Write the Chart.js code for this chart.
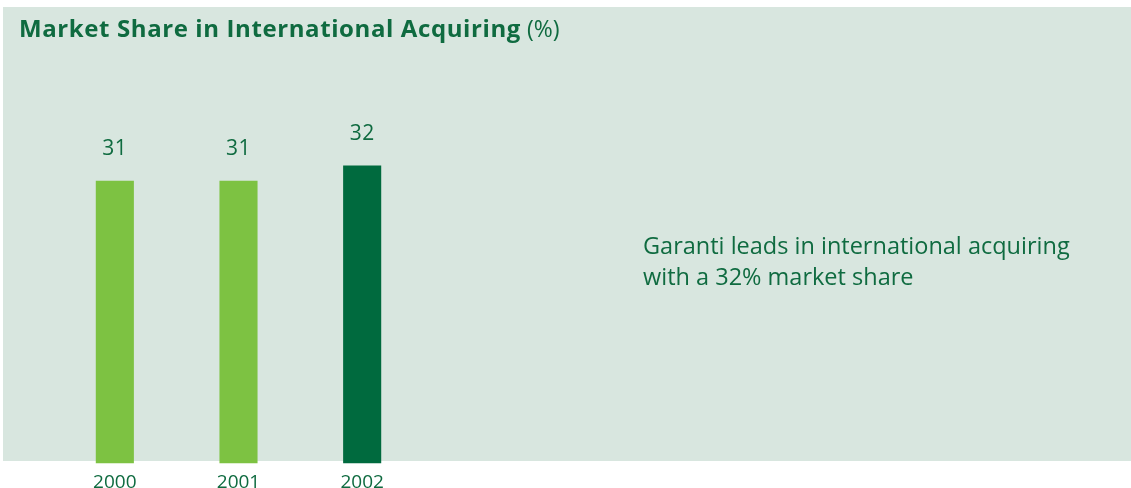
<!DOCTYPE html>
<html>
<head>
<meta charset="utf-8">
<script src="https://cdn.jsdelivr.net/npm/chart.js@4"></script>
<style>
  html, body { margin: 0; padding: 0; background: #ffffff; }
  #wrap { width: 1131px; height: 488px; position: relative; }
</style>
</head>
<body>
<div id="wrap"><canvas id="shareChart"></canvas></div>
<script>
const years = ['2000', '2001', '2002'];
const shareValues = [31, 31, 32];
const barColors = ['#7dc242', '#7dc242', '#006a3e'];
const titleBold = 'Market Share in International Acquiring';
const titleUnit = ' (%)';
const noteLines = ['Garanti leads in international acquiring', 'with a 32% market share'];

const textGreen = '#0f6b40';
const panelColor = '#d8e6df';
const fontFamily = '"Open Sans", "Noto Sans", sans-serif';

// light green panel, title and side note
const panelPlugin = {
    id: 'panel',
    beforeDraw(chart) {
        const ctx = chart.ctx;
        ctx.save();
        ctx.fillStyle = panelColor;
        ctx.fillRect(3, 7, chart.width - 3, 454);
        ctx.restore();
    },
    afterDraw(chart) {
        const ctx = chart.ctx;
        ctx.save();
        ctx.fillStyle = textGreen;
        ctx.textBaseline = 'alphabetic';
        ctx.font = 'bold 24px ' + fontFamily;
        ctx.letterSpacing = '0.6px';
        ctx.fillText(titleBold, 19, 37);
        const w = ctx.measureText(titleBold).width;
        ctx.font = '23px ' + fontFamily;
        ctx.letterSpacing = '0px';
        ctx.fillText(titleUnit, 19 + w, 37);

        ctx.font = '23.5px ' + fontFamily;
        noteLines.forEach((line, i) => {
            ctx.fillText(line, 643, 254 + i * 31);
        });
        ctx.restore();
    }
};

// value labels above bars
const valueLabels = {
    id: 'valueLabels',
    afterDatasetsDraw(chart) {
        const ctx = chart.ctx;
        const meta = chart.getDatasetMeta(0);
        ctx.save();
        ctx.fillStyle = textGreen;
        ctx.font = '21px ' + fontFamily;
        ctx.letterSpacing = '0.5px';
        ctx.textAlign = 'center';
        ctx.textBaseline = 'alphabetic';
        meta.data.forEach((bar, i) => {
            ctx.fillText(String(shareValues[i]), bar.x, bar.y - 26);
        });
        ctx.restore();
    }
};

new Chart(document.getElementById('shareChart'), {
    type: 'bar',
    data: {
        labels: years,
        datasets: [{
            data: shareValues,
            backgroundColor: barColors,
            borderWidth: 0
        }]
    },
    options: {
        responsive: true,
        maintainAspectRatio: false,
        animation: false,
        layout: { padding: { left: 53, right: 707, top: 60, bottom: -14 } },
        datasets: {
            bar: { categoryPercentage: 1, barPercentage: 0.308 }
        },
        plugins: {
            legend: { display: false },
            tooltip: { enabled: false },
            title: { display: false }
        },
        scales: {
            x: {
                grid: { display: false, drawTicks: false },
                border: { display: false },
                ticks: {
                    color: textGreen,
                    padding: 8,
                    font: { family: fontFamily, size: 19 }
                }
            },
            y: {
                display: false,
                min: 12.27,
                max: 39
            }
        }
    },
    plugins: [panelPlugin, valueLabels]
});
</script>
</body>
</html>
